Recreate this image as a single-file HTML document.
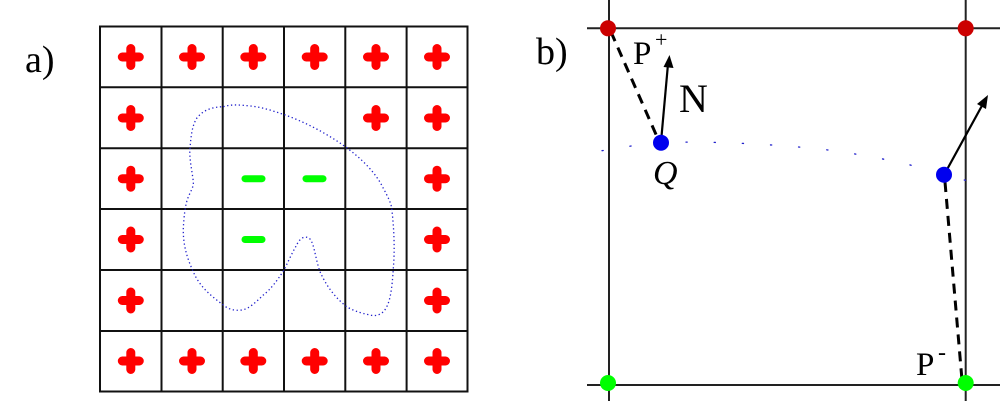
<!DOCTYPE html>
<html><head><meta charset="utf-8"><style>
html,body{margin:0;padding:0;background:#fff;}
body{position:relative;width:1000px;height:407px;overflow:hidden;}
svg{display:block;position:absolute;left:0;top:0;}
.t{position:absolute;font-family:"Liberation Serif","DejaVu Serif",serif;line-height:1;color:#000;white-space:nowrap;}
</style></head><body>
<svg width="1000" height="407" viewBox="0 0 1000 407" xmlns="http://www.w3.org/2000/svg">
<rect width="1000" height="407" fill="#fff"/>
<g stroke="#111" stroke-width="2" fill="none">
<rect x="100" y="26.5" width="367.5" height="365"/>
<line x1="161.5" y1="26.5" x2="161.5" y2="391.5"/>
<line x1="222.7" y1="26.5" x2="222.7" y2="391.5"/>
<line x1="284" y1="26.5" x2="284" y2="391.5"/>
<line x1="345.3" y1="26.5" x2="345.3" y2="391.5"/>
<line x1="406.6" y1="26.5" x2="406.6" y2="391.5"/>
<line x1="100" y1="87.3" x2="467.5" y2="87.3"/>
<line x1="100" y1="148.3" x2="467.5" y2="148.3"/>
<line x1="100" y1="209" x2="467.5" y2="209"/>
<line x1="100" y1="270" x2="467.5" y2="270"/>
<line x1="100" y1="331" x2="467.5" y2="331"/>
</g>
<defs>
<g id="pl"><path d="M-8.5 0H8.5M0 -8.5V8.5" stroke="#f00" stroke-width="9" stroke-linecap="round"/></g>
</defs>
<g>
<use href="#pl" x="130.8" y="57"/><use href="#pl" x="192" y="57"/><use href="#pl" x="253.3" y="57"/><use href="#pl" x="314.7" y="57"/><use href="#pl" x="376" y="57"/><use href="#pl" x="437" y="57"/>
<use href="#pl" x="130.8" y="118"/><use href="#pl" x="376" y="118"/><use href="#pl" x="437" y="118"/>
<use href="#pl" x="130.8" y="178.7"/><use href="#pl" x="437" y="178.7"/>
<use href="#pl" x="130.8" y="239.5"/><use href="#pl" x="437" y="239.5"/>
<use href="#pl" x="130.8" y="300.5"/><use href="#pl" x="437" y="300.5"/>
<use href="#pl" x="130.8" y="361"/><use href="#pl" x="192" y="361"/><use href="#pl" x="253.3" y="361"/><use href="#pl" x="314.7" y="361"/><use href="#pl" x="376" y="361"/><use href="#pl" x="437" y="361"/>
</g>
<g stroke="#0f0" stroke-width="7" stroke-linecap="round">
<line x1="245" y1="178.7" x2="262" y2="178.7"/>
<line x1="306" y1="178.7" x2="323" y2="178.7"/>
<line x1="245" y1="239.5" x2="262" y2="239.5"/>
</g>
<path d="M223.3,106.7 C232,104 240,105 250,106 C262,107 273,111 283.3,114.3 C305,122 326,133 345.3,146.7 C362,159 376,173 383.3,188.3 C388,197 391,203 391.7,208.3 C394,228 395,250 393.3,268.3 C392,290 390,305 383.3,311.7 C379,316 374,316 370,315 C360,313 352,310 346.7,306.7 C333,296 325,283 320,271.7 C315,258 314,240 308.3,237.7 C302,235 298,242 296.7,245 C292,253 288,262 284,270 C277,281 270,290 263.3,295 C256,302 249,309 241.7,310 C234,311 228,309 223.3,305 C211,296 199,286 193.3,271.7 C186,256 183,243 183.3,228.3 C184,216 185,208 186.7,201.7 C189,193 194,188 193.3,181.7 C192,170 189,158 190,148.3 C191,136 192,126 196.7,118.3 C203,110 212,107 223.3,106.7 Z" fill="none" stroke="#22c" stroke-width="1.3" stroke-dasharray="1.3 2.6"/>
<g stroke="#222" stroke-width="2">
<line x1="587" y1="28.3" x2="1000" y2="28.3"/>
<line x1="587" y1="385" x2="1000" y2="385"/>
<line x1="609" y1="0" x2="609" y2="401"/>
<line x1="965.7" y1="0" x2="965.7" y2="401"/>
</g>
<path d="M602,150.7 C630,146 650,143 661,142.7 C700,141 760,143 820,149 C870,155 920,166 944,174.7 L972,182" fill="none" stroke="#22c" stroke-width="1.3" stroke-dasharray="1.2 27" stroke-linecap="round"/>
<g stroke="#000" stroke-width="3" stroke-dasharray="10 7" fill="none">
<line x1="611" y1="32" x2="658" y2="139"/>
<line x1="945" y1="182" x2="962" y2="380"/>
</g>
<g stroke="#000" stroke-width="2.2">
<line x1="661" y1="142" x2="668" y2="64"/>
<line x1="944" y1="175" x2="984" y2="102"/>
</g>
<polygon points="669.5,55 673.5,68 663.5,67" fill="#000"/>
<polygon points="988,95 986,109 977,104" fill="#000"/>
<circle cx="608" cy="28.3" r="8" fill="#c00"/>
<circle cx="965.7" cy="28.3" r="8" fill="#c00"/>
<circle cx="608" cy="383" r="8" fill="#0f0"/>
<circle cx="965.7" cy="383" r="8" fill="#0f0"/>
<circle cx="661" cy="142.7" r="8" fill="#00e"/>
<circle cx="944" cy="174.7" r="8" fill="#00e"/>
</svg>
<div class="t" style="left:25px;top:41px;font-size:38px;">a)</div>
<div class="t" style="left:536px;top:33px;font-size:38px;">b)</div>
<div class="t" style="left:633px;top:38px;font-size:33px;">P</div>
<div class="t" style="left:655px;top:29px;font-size:22px;">+</div>
<div class="t" style="left:679px;top:79px;font-size:40px;">N</div>
<div class="t" style="left:653px;top:157px;font-size:34px;font-style:italic;">Q</div>
<div class="t" style="left:916px;top:349px;font-size:33px;">P</div>
<div class="t" style="left:938px;top:341px;font-size:24px;">-</div>
</body></html>
